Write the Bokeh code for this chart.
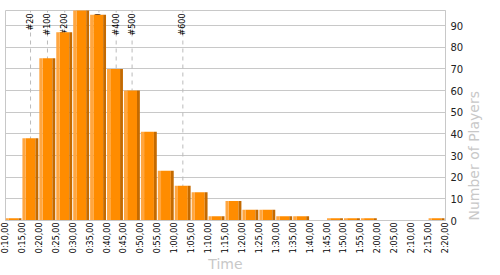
import numpy as np
from math import pi
from bokeh.plotting import figure
from bokeh.models import Range1d, FixedTicker
from bokeh.embed import file_html
from bokeh.resources import INLINE
from bokeh.core.properties import value

# ---- data ----
bin_edges = [10, 15, 20, 25, 30, 35, 40, 45, 50, 55, 60, 65, 70, 75, 80,
             85, 90, 95, 100, 105, 110, 115, 120, 125, 130, 135, 140]  # minutes
tick_labels = ["0:10,00", "0:15,00", "0:20,00", "0:25,00", "0:30,00", "0:35,00",
               "0:40,00", "0:45,00", "0:50,00", "0:55,00", "1:00,00", "1:05,00",
               "1:10,00", "1:15,00", "1:20,00", "1:25,00", "1:30,00", "1:35,00",
               "1:40,00", "1:45,00", "1:50,00", "1:55,00", "2:00,00", "2:05,00",
               "2:10,00", "2:15,00", "2:20,00"]
players = [1, 38, 75, 87, 98, 95, 70, 60, 41, 23, 16, 13, 2, 9, 5,
           5, 2, 2, 0, 1, 1, 1, 0, 0, 0, 1]
rank_labels = ["#20", "#100", "#200", "#300", "#400", "#500", "#600"]
rank_times = [17.4, 22.4, 27.5, 37.6, 42.7, 47.4, 62.4]  # minutes
y_ticks = [0, 10, 20, 30, 40, 50, 60, 70, 80, 90]

Y_MAX = 97
FONT = "DejaVu Sans"
GRID = "#c8c8c8"

p = figure(width=500, height=275, x_range=Range1d(10, 140), y_range=Range1d(0, Y_MAX),
           y_axis_location="right", toolbar_location=None, output_backend="svg",
           min_border_left=5, min_border_top=10, min_border_right=55, min_border_bottom=55)
p.outline_line_color = GRID
p.background_fill_color = "white"
p.border_fill_color = "white"
p.xgrid.visible = False
p.ygrid.grid_line_color = GRID
p.ygrid.ticker = FixedTicker(ticks=y_ticks)

# right axis
ya = p.yaxis[0]
ya.ticker = FixedTicker(ticks=y_ticks)
ya.major_label_text_font = FONT
ya.major_label_text_font_size = "10px"
ya.major_label_text_color = "#222222"
ya.axis_line_color = GRID
ya.major_tick_out = 0
ya.major_tick_in = 0
ya.minor_tick_out = 0
ya.minor_tick_in = 0
ya.major_label_standoff = 5
ya.axis_label = "Number of Players"
ya.axis_label_text_font = FONT
ya.axis_label_text_font_size = "14px"
ya.axis_label_text_font_style = "normal"
ya.axis_label_text_color = GRID
ya.axis_label_standoff = 8
ya.axis_label_orientation = pi / 2
ya.axis_label_align = "start"

# bottom axis
xa = p.xaxis[0]
xa.ticker = FixedTicker(ticks=bin_edges)
xa.major_label_overrides = {e: t for e, t in zip(bin_edges, tick_labels)}
xa.major_label_orientation = pi / 2
xa.major_label_text_font = FONT
xa.major_label_text_font_size = "8px"
xa.major_label_text_color = "black"
xa.axis_line_color = GRID
xa.major_tick_out = 0
xa.major_tick_in = 0
xa.minor_tick_out = 0
xa.minor_tick_in = 0
xa.major_label_standoff = 2
xa.axis_label = "Time"
xa.axis_label_text_font = FONT
xa.axis_label_text_font_size = "14px"
xa.axis_label_text_font_style = "normal"
xa.axis_label_text_color = GRID
xa.axis_label_standoff = 0

# rank markers (drawn behind the bars)
p.segment(x0=rank_times, y0=0, x1=rank_times, y1=Y_MAX, line_color="#bbbbbb",
          line_width=1, line_dash="4 4")
p.text(x=rank_times, y=[Y_MAX] * len(rank_times), text=rank_labels, angle=pi / 2,
       text_align="right", text_baseline="middle", y_offset=3,
       text_font=value(FONT), text_font_size="8px", text_color="black")

# 3D-looking bars
edges = np.array(bin_edges, dtype=float)
left = edges[:-1]
bw = edges[1:] - edges[:-1]
right = left + bw * 0.94
light_r = left + bw * 0.19
dark_l = right - bw * 0.17
top = np.array(players, dtype=float)
p.quad(left=light_r, right=dark_l, bottom=0, top=top, fill_color="#ff8c00", line_color=None)
p.quad(left=left, right=light_r, bottom=0, top=top, fill_color="#ffa640", line_color=None)
p.quad(left=dark_l, right=right, bottom=0, top=top, fill_color="#c46a00", line_color=None)

open("out.html", "w").write(file_html(p, INLINE))
